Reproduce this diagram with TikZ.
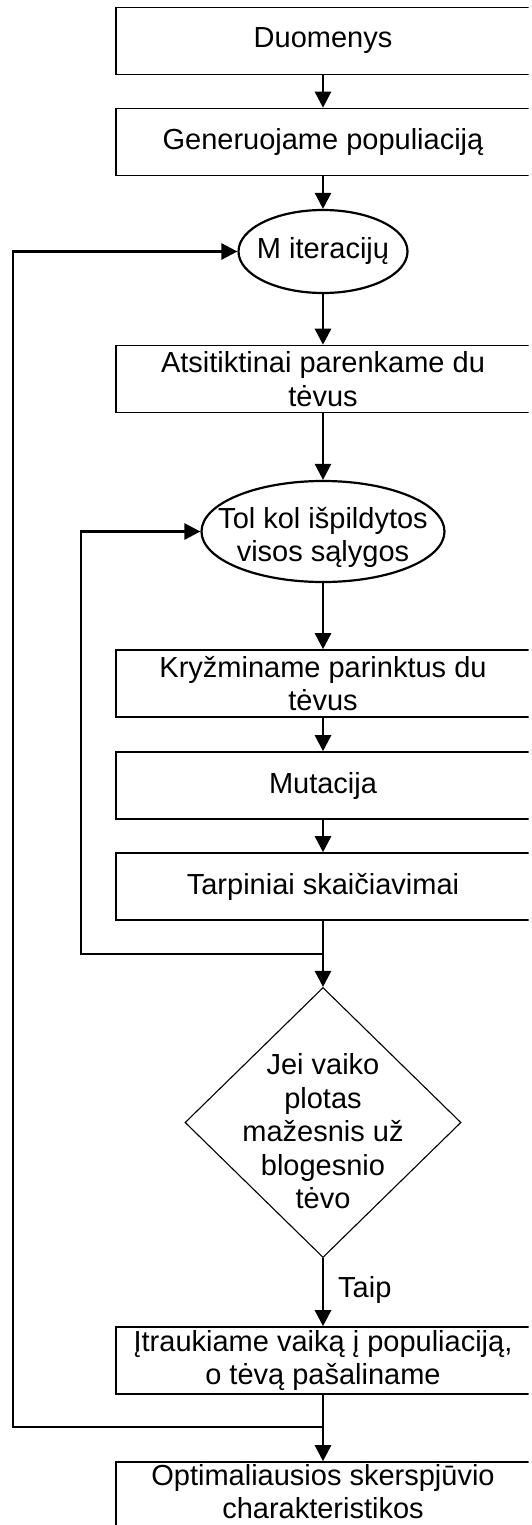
\documentclass[tikz,border=0pt]{standalone}
\usepackage{fontspec}
\setmainfont{Liberation Sans}
\usetikzlibrary{arrows.meta,shapes.geometric}
\tikzset{
  stepbox/.style={draw, line width=1.6pt, rectangle, minimum width=414pt, minimum height=67pt, inner sep=0pt, align=center},
  loopell/.style={draw, line width=2.2pt, ellipse, inner sep=0pt},
  decis/.style={draw, line width=1.1pt, diamond, inner sep=0pt, minimum width=276pt, minimum height=270pt},
  conn/.style={line width=2.6pt},
  arr/.style={conn, -{Triangle[length=16pt,width=16pt]}},
  lbl/.style={inner sep=0pt, align=center}
}
\begin{document}
\begin{tikzpicture}[x=1pt,y=-1pt,font=\fontsize{29}{33.5}\selectfont]
\useasboundingbox (0,0) rectangle (532,1525);
\clip (0,-2) rectangle (528.5,1527);
\node[stepbox] (b1) at (323,41) {Duomenys};
\node[stepbox] (b2) at (323,142) {Generuojame populiacij\k{a}};
\node[loopell, minimum width=169pt, minimum height=83pt, label={[lbl]center:M iteracij\k{u}}] (e1) at (323,251.5) {};
\node[stepbox] (b3) at (323,379) {Atsitiktinai parenkame du\\t\.{e}vus};
\node[loopell, minimum width=243pt, minimum height=101pt, label={[lbl,yshift=-6pt]center:Tol kol i\v{s}pildytos\\visos s\k{a}lygos}] (e2) at (323,531.5) {};
\node[stepbox] (b4) at (323,683.5) {Kry\v{z}miname parinktus du\\t\.{e}vus};
\node[stepbox] (b5) at (323,785.5) {Mutacija};
\node[stepbox] (b6) at (323,886.5) {Tarpiniai skai\v{c}iavimai};
\node[decis, label={[lbl,yshift=-9pt]center:Jei vaiko\\plotas\\ma\v{z}esnis u\v{z}\\blogesnio\\t\.{e}vo}] (d) at (323,1122.5) {};
\node[stepbox] (b7) at (323,1360.5) {\k{I}traukiame vaik\k{a} \k{i} populiacij\k{a},\\o t\.{e}v\k{a} pa\v{s}aliname};
\node[stepbox, label={[lbl,yshift=4pt,font=\fontsize{29}{32.5}\selectfont]center:Optimaliausios skerspj\={u}vio\\charakteristikos}] (b8) at (323,1495.5) {};
\node[lbl, anchor=west] (taip) at (338,1290) {Taip};
\coordinate (j1) at (323,954);
\coordinate (c1) at (81,954);
\coordinate (j2) at (323,1427);
\coordinate (c2) at (13,1427);
\draw[arr] (b1.south) -- (b2.north);
\draw[arr] (b2.south) -- (e1.north);
\draw[arr] (e1.south) -- (b3.north);
\draw[arr] (b3.south) -- (e2.north);
\draw[arr] (e2.south) -- (b4.north);
\draw[arr] (b4.south) -- (b5.north);
\draw[arr] (b5.south) -- (b6.north);
\draw[arr] (b6.south) -- (d.north);
\draw[arr] (d.south) -- (b7.north);
\draw[arr] (b7.south) -- (b8.north);
\draw[arr] (j1) -- (c1) |- (e2.west);
\draw[arr] (j2) -- (c2) |- (e1.west);
\end{tikzpicture}
\end{document}
